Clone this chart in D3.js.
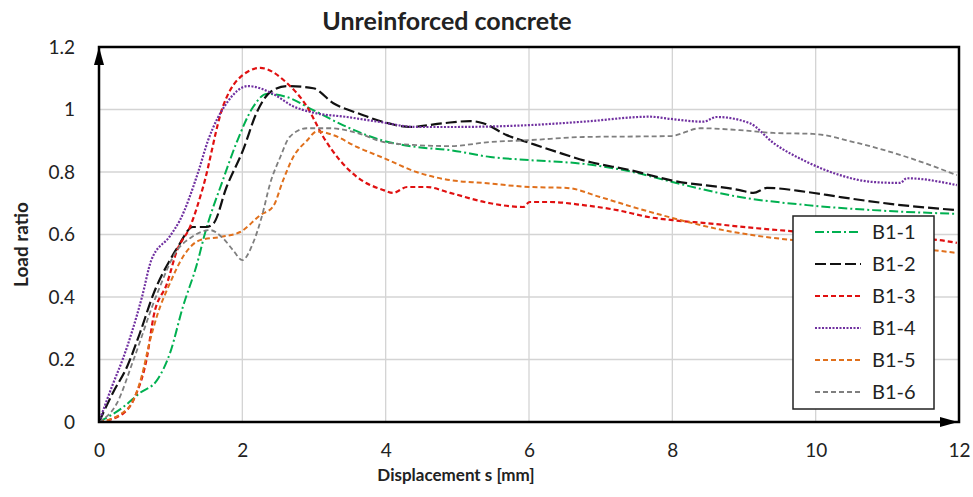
<!DOCTYPE html>
<html>
<head>
<meta charset="utf-8">
<script src="https://cdn.jsdelivr.net/npm/d3@7"></script>
<style>
  body { margin: 0; background: #fff; }
  text { font-family: Lato, "Open Sans", sans-serif; fill: #222; }
</style>
</head>
<body>
<div class="chart"></div>
<script>
// data: [displacement mm, load ratio]
const seriesNames = ["B1-1", "B1-2", "B1-3", "B1-4", "B1-5", "B1-6"];

const b1_1 = [[0,0],[0.34,0.048],[0.57,0.093],[0.81,0.134],[0.99,0.22],[1.17,0.368],[1.37,0.508],[1.48,0.605],
  [1.73,0.775],[1.93,0.9],[2.15,1.008],[2.34,1.05],[2.62,1.04],[2.99,0.998],[3.46,0.944],[3.97,0.9],[4.43,0.88],[4.9,0.87],
  [5.46,0.848],[6.01,0.838],[6.76,0.826],[7.45,0.8],[8.0,0.768],[8.94,0.72],[9.88,0.694],[10.8,0.678],[11.97,0.666]];

const b1_2 = [[0,0],[0.2,0.096],[0.39,0.176],[0.57,0.284],[0.76,0.41],[1.02,0.53],[1.1,0.56],[1.31,0.624],[1.5,0.624],
  [1.6,0.636],[1.78,0.752],[2.01,0.87],[2.2,0.99],[2.39,1.056],[2.62,1.075],[2.99,1.068],[3.27,1.02],[3.6,0.989],[3.97,0.96],
  [4.34,0.944],[4.8,0.956],[5.18,0.963],[5.36,0.956],[5.69,0.918],[6.01,0.893],[6.39,0.864],[6.85,0.832],[7.41,0.806],
  [7.97,0.774],[8.94,0.742],[9.13,0.733],[9.32,0.749],[9.88,0.736],[10.34,0.72],[11.04,0.698],[11.97,0.678]];

const b1_3 = [[0,0],[0.34,0.028],[0.5,0.08],[0.67,0.208],[0.76,0.336],[0.95,0.444],[1.09,0.55],[1.27,0.624],[1.45,0.75],
  [1.73,1.01],[1.93,1.094],[2.25,1.133],[2.62,1.085],[2.9,1.01],[3.13,0.912],[3.36,0.838],[3.6,0.784],[3.97,0.742],
  [4.1,0.733],[4.3,0.752],[4.57,0.752],[4.9,0.733],[5.46,0.7],[5.92,0.688],[6.01,0.704],[6.29,0.704],[6.76,0.694],
  [7.23,0.678],[7.69,0.655],[8.0,0.646],[8.48,0.636],[9.18,0.62],[10.0,0.605],[11.0,0.592],[11.73,0.582],[11.97,0.573]];

const b1_4 = [[0,0],[0.2,0.125],[0.33,0.2],[0.6,0.4],[0.73,0.518],[0.99,0.595],[1.13,0.646],[1.38,0.797],[1.52,0.9],
  [1.78,1.02],[2.08,1.075],[2.43,1.05],[2.71,1.01],[2.99,0.99],[3.46,0.976],[3.92,0.96],[4.43,0.944],[4.9,0.944],
  [6.0,0.95],[6.76,0.961],[7.69,0.977],[7.97,0.97],[8.43,0.961],[8.62,0.976],[9.08,0.956],[9.41,0.893],[9.88,0.832],
  [10.34,0.79],[10.8,0.768],[11.18,0.765],[11.27,0.78],[11.97,0.758]];

const b1_5 = [[0,0],[0.3,0.025],[0.48,0.07],[0.6,0.15],[0.7,0.25],[0.81,0.34],[0.99,0.444],[1.17,0.528],[1.41,0.582],[1.69,0.592],
  [1.97,0.608],[2.25,0.662],[2.43,0.69],[2.57,0.774],[2.71,0.848],[2.9,0.9],[3.04,0.93],[3.27,0.918],[3.6,0.88],
  [3.97,0.845],[4.43,0.8],[4.9,0.774],[5.36,0.765],[6.01,0.752],[6.53,0.749],[6.99,0.72],[7.45,0.688],[8.0,0.653],
  [8.71,0.614],[9.41,0.589],[10.5,0.57],[11.64,0.55],[11.97,0.541]];

const b1_6 = [[0,0],[0.25,0.06],[0.48,0.198],[0.81,0.41],[1.09,0.55],[1.27,0.588],[1.55,0.614],
  [1.73,0.588],[1.87,0.55],[2.0,0.518],[2.15,0.573],[2.27,0.656],[2.39,0.765],[2.53,0.848],[2.66,0.912],[2.9,0.94],
  [3.22,0.94],[3.6,0.925],[3.97,0.896],[4.43,0.886],[4.9,0.883],[5.46,0.896],[6.01,0.902],[6.76,0.912],[7.97,0.915],
  [8.39,0.94],[8.94,0.934],[9.41,0.925],[9.96,0.922],[10.58,0.893],[11.27,0.848],[11.97,0.79]];

const xTicks = [0, 2, 4, 6, 8, 10, 12];
const yTicks = [0, 0.2, 0.4, 0.6, 0.8, 1, 1.2];

const series = [
  {name: seriesNames[0], values: b1_1, color: "#00b050", dash: "9,3,2,3", width: 2},
  {name: seriesNames[1], values: b1_2, color: "#111111", dash: "11,4", width: 2.2},
  {name: seriesNames[2], values: b1_3, color: "#e01010", dash: "5,3", width: 2.2},
  {name: seriesNames[3], values: b1_4, color: "#7030a0", dash: "2,1.5", width: 2.2},
  {name: seriesNames[4], values: b1_5, color: "#e0701c", dash: "5,3", width: 2},
  {name: seriesNames[5], values: b1_6, color: "#7f7f7f", dash: "5,3", width: 1.8}
];

const W = 973, H = 497;
const margin = {top: 47, right: 14, bottom: 75, left: 99};
const iw = W - margin.left - margin.right, ih = H - margin.top - margin.bottom;

const svg = d3.select(".chart").append("svg")
  .attr("width", W).attr("height", H);

const x = d3.scaleLinear().domain([0, 12]).range([margin.left, margin.left + iw]);
const y = d3.scaleLinear().domain([0, 1.2]).range([margin.top + ih, margin.top]);

// grid
svg.append("g").selectAll("line").data(xTicks.slice(1, -1)).enter().append("line")
  .attr("x1", d => x(d)).attr("x2", d => x(d))
  .attr("y1", y(0)).attr("y2", y(1.2))
  .attr("stroke", "#d4d4d4").attr("stroke-width", 1.3);
svg.append("g").selectAll("line").data(yTicks.slice(1, -1)).enter().append("line")
  .attr("x1", x(0)).attr("x2", x(12))
  .attr("y1", d => y(d)).attr("y2", d => y(d))
  .attr("stroke", "#d4d4d4").attr("stroke-width", 1.3);

// axes (labels only, lines drawn as frame)
const xAxis = svg.append("g").attr("transform", `translate(0,${y(0)})`)
  .call(d3.axisBottom(x).tickValues(xTicks).tickSize(0).tickPadding(22).tickFormat(d3.format("d")));
const yAxis = svg.append("g").attr("transform", `translate(${x(0)},0)`)
  .call(d3.axisLeft(y).tickValues(yTicks).tickSize(0).tickPadding(24).tickFormat(d => d === 0 ? "0" : String(+d.toFixed(1))));
[xAxis, yAxis].forEach(a => {
  a.select(".domain").remove();
  a.selectAll("text").style("font-family", "Lato, 'Open Sans', sans-serif").style("font-size", "19px").attr("fill", "#222");
});

// curves
const line = d3.line().x(d => x(d[0])).y(d => y(d[1])).curve(d3.curveMonotoneX);
svg.append("g").selectAll("path").data(series).enter().append("path")
  .attr("d", d => line(d.values))
  .attr("fill", "none")
  .attr("stroke", d => d.color)
  .attr("stroke-width", d => d.width)
  .attr("stroke-dasharray", d => d.dash);

// frame
svg.append("rect")
  .attr("x", x(0)).attr("y", y(1.2)).attr("width", x(12) - x(0)).attr("height", y(0) - y(1.2))
  .attr("fill", "none").attr("stroke", "#000").attr("stroke-width", 2.5);
// arrow heads
svg.append("path")
  .attr("d", `M${x(0)},${y(1.2)} l-5,18 l10,0 z`).attr("fill", "#000");
svg.append("path")
  .attr("d", `M${x(12) - 1},${y(0)} l-18,-5 l0,10 z`).attr("fill", "#000");

// legend
const lg = svg.append("g").attr("transform", "translate(793,216)");
lg.append("rect").attr("width", 141).attr("height", 193)
  .attr("fill", "#fff").attr("stroke", "#222").attr("stroke-width", 1.5);
const item = lg.selectAll("g").data(series).enter().append("g")
  .attr("transform", (d, i) => `translate(0,${16 + i * 32})`);
item.append("line").attr("x1", 22).attr("x2", 68)
  .attr("stroke", d => d.color).attr("stroke-width", d => d.width)
  .attr("stroke-dasharray", d => d.dash);
item.append("text").attr("x", 79).attr("y", 7).style("font-size", "20px").text(d => d.name);

// titles
svg.append("text").attr("x", 447).attr("y", 30).attr("text-anchor", "middle")
  .style("font-size", "25px").style("font-weight", "bold").text("Unreinforced concrete");
svg.append("text").attr("x", 456).attr("y", 481).attr("text-anchor", "middle")
  .style("font-size", "17px").style("font-weight", "bold").text("Displacement s [mm]");
svg.append("text").attr("transform", `translate(28,${y(0.6) + 10}) rotate(-90)`).attr("text-anchor", "middle")
  .style("font-size", "19px").style("font-weight", "bold").text("Load ratio");
</script>
</body>
</html>
